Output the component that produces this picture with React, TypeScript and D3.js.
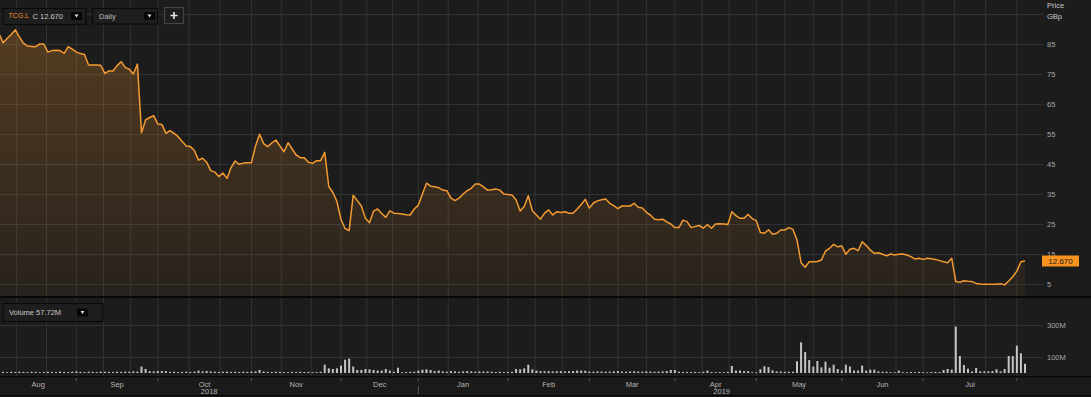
import React, { useEffect, useRef } from "react";
import * as d3 from "d3";

const W = 1091;
const H = 397;

// LSE trading calendar bits
const holidays = [
  "2018-08-27", "2018-12-25", "2018-12-26", "2019-01-01",
  "2019-04-19", "2019-04-22", "2019-05-06", "2019-05-27", "2019-08-26",
];
const firstDay = "2018-08-06";

// daily close, GBp
const closes = [
  88.5, 85.4, 86.8, 88.2, 89.7, 87.4, 85.3, 84.3, 84.2, 84.1,
  85.0, 85.0, 82.3, 82.8, 82.9, 82.8, 81.9, 84.1, 83.3, 82.3,
  81.8, 81.5, 78.0, 78.0, 78.0, 77.9, 75.2, 76.0, 76.0, 77.8,
  79.1, 77.2, 76.6, 75.0, 78.3, 55.4, 59.7, 60.5, 61.1, 58.3,
  58.2, 55.2, 56.1, 55.2, 54.1, 52.5, 51.0, 50.8, 49.5, 46.3,
  46.9, 45.6, 42.8, 42.3, 40.8, 42.0, 40.2, 43.8, 46.0, 44.9,
  45.3, 45.4, 45.4, 51.0, 54.9, 51.8, 50.8, 52.0, 53.0, 51.0,
  49.1, 52.1, 50.0, 48.0, 47.1, 47.1, 45.6, 45.2, 46.1, 46.1,
  48.9, 37.5, 35.5, 32.5, 26.5, 23.5, 22.8, 34.6, 32.8, 31.0,
  26.9, 25.4, 29.3, 30.0, 28.5, 27.2, 29.4, 28.6, 28.5, 28.3,
  28.1, 28.0, 30.0, 31.3, 35.0, 38.6, 37.6, 37.4, 37.1, 36.3,
  36.1, 33.6, 32.8, 33.6, 35.0, 36.1, 36.9, 38.3, 38.3, 37.4,
  36.3, 36.4, 36.7, 36.3, 35.0, 34.8, 34.7, 33.0, 29.3, 30.8,
  34.4, 29.4, 28.0, 26.6, 28.6, 29.7, 28.0, 29.1, 28.8, 29.1,
  28.6, 28.6, 30.0, 31.5, 33.2, 30.3, 32.0, 32.7, 33.1, 33.3,
  31.9, 31.1, 30.1, 31.0, 31.0, 31.0, 31.9, 30.6, 30.3, 28.9,
  28.0, 26.6, 26.4, 26.6, 25.7, 25.0, 23.8, 23.8, 26.3, 25.8,
  23.8, 24.2, 24.5, 23.6, 24.8, 23.6, 25.0, 25.1, 25.0, 24.8,
  29.1, 27.8, 26.9, 26.9, 28.2, 26.8, 26.1, 22.2, 21.9, 23.1,
  21.6, 21.9, 23.0, 23.0, 23.8, 23.2, 19.7, 12.1, 10.6, 12.4,
  12.4, 12.5, 13.0, 16.0, 16.9, 18.2, 17.4, 17.7, 14.9, 16.6,
  16.9, 16.1, 19.1, 17.8, 16.3, 15.2, 15.4, 14.9, 14.4, 15.0,
  14.7, 14.9, 15.0, 14.7, 14.1, 13.3, 13.6, 13.2, 13.6, 13.4,
  13.2, 12.8, 12.4, 12.1, 13.6, 5.8, 5.6, 6.1, 5.9, 5.8,
  5.2, 5.0, 4.9, 4.9, 4.9, 4.9, 5.1, 4.7, 6.0, 7.4,
  9.3, 12.4, 12.67,
];

// daily volume, millions
const volumes = [
  6, 7, 5, 8, 6, 9, 7, 6, 8, 7,
  5, 6, 8, 7, 6, 9, 7, 6, 8, 10,
  7, 6, 8, 7, 6, 9, 8, 7, 6, 8,
  7, 9, 8, 10, 9, 40, 25, 12, 10, 12,
  12, 12, 7, 8, 6, 7, 8, 7, 9, 15,
  10, 13, 10, 8, 7, 8, 9, 7, 8, 6,
  8, 7, 9, 10, 19, 9, 7, 6, 8, 7,
  6, 5, 7, 6, 8, 6, 7, 5, 6, 8,
  52, 29, 25, 29, 46, 83, 90, 40, 19, 19,
  25, 23, 19, 15, 15, 25, 15, 8, 33, 4,
  6, 8, 8, 15, 21, 23, 19, 12, 15, 10,
  8, 12, 10, 8, 10, 12, 10, 8, 10, 9,
  10, 8, 6, 8, 6, 7, 8, 25, 23, 29,
  52, 23, 15, 12, 11, 12, 10, 11, 12, 10,
  11, 12, 15, 15, 14, 9, 8, 10, 9, 8,
  9, 10, 12, 9, 8, 10, 11, 9, 8, 10,
  9, 8, 9, 10, 12, 19, 19, 8, 6, 7,
  6, 7, 5, 8, 15, 6, 5, 6, 5, 7,
  44, 15, 15, 12, 12, 5, 4, 23, 42, 37,
  17, 10, 10, 8, 8, 8, 73, 192, 131, 81,
  40, 75, 35, 71, 33, 52, 25, 15, 52, 40,
  15, 15, 46, 15, 21, 21, 10, 8, 8, 5,
  5, 15, 5, 4, 6, 5, 7, 5, 4, 6,
  7, 6, 19, 25, 21, 290, 106, 50, 27, 10,
  31, 10, 10, 10, 12, 23, 10, 25, 106, 106,
  171, 123, 57.72,
];

const priceTicks = [5, 15, 25, 35, 45, 55, 65, 75, 85, 95];
const volumeTicks = [100, 300];

const FONT = "'Liberation Sans', Arial, sans-serif";

const App = () => {
  const ref = useRef<SVGSVGElement>(null);

  useEffect(() => {
    const svg = d3.select(ref.current);
    svg.selectAll("*").remove();

    // trading days Aug 2018 - Aug 2019
    const calendar: string[] = [];
    const end = new Date(Date.UTC(2019, 7, 31));
    for (let d = new Date(Date.UTC(2018, 7, 1)); d <= end; d.setUTCDate(d.getUTCDate() + 1)) {
      const s = d.toISOString().slice(0, 10);
      const wd = d.getUTCDay();
      if (wd !== 0 && wd !== 6 && !holidays.includes(s)) calendar.push(s);
    }
    const start = calendar.indexOf(firstDay);
    const n = Math.min(closes.length, volumes.length);
    const last = n - 1;

    const plotR = 1043;
    const priceTop = 0;
    const priceBottom = 296;

    const x = d3.scaleLinear().domain([0, last]).range([-1, 1025]);
    const y = d3.scaleLinear().domain([5, 85]).range([284, 44]);
    const yv = d3.scaleLinear().domain([0, 300]).range([373, 325]);

    const months = d3
      .groups(
        calendar.map((s, c) => ({ s, i: c - start })),
        (d) => d.s.slice(0, 7)
      )
      .map(([key, vals]) => ({
        key,
        first: vals[0].i,
        count: vals.length,
        name: d3.utcFormat("%b")(new Date(key + "-15T00:00:00Z")),
        year: key.slice(0, 4),
      }));

    // backgrounds
    svg.append("rect").attr("width", W).attr("height", H).attr("fill", "#1c1c1c");

    const defs = svg.append("defs");
    defs
      .append("clipPath")
      .attr("id", "plotClip")
      .append("rect")
      .attr("x", 0)
      .attr("y", priceTop)
      .attr("width", plotR)
      .attr("height", priceBottom - priceTop);
    const grad = defs
      .append("linearGradient")
      .attr("id", "areaGrad")
      .attr("gradientUnits", "userSpaceOnUse")
      .attr("x1", 0)
      .attr("y1", 30)
      .attr("x2", 0)
      .attr("y2", priceBottom);
    grad.append("stop").attr("offset", 0).attr("stop-color", "#f0952d").attr("stop-opacity", 0.26);
    grad.append("stop").attr("offset", 1).attr("stop-color", "#f0952d").attr("stop-opacity", 0.05);

    // vertical gridlines: month start and thirds of the month
    const gridXs: number[] = [];
    months.forEach((m) => {
      for (let k = 0; k < 3; k++) {
        const gx = x(m.first + (k * m.count) / 3);
        if (gx > 0 && gx < plotR) gridXs.push(gx);
      }
    });

    const grid = svg.append("g").attr("stroke", "#323232").attr("stroke-width", 1);
    gridXs.forEach((gx) => {
      grid.append("line").attr("x1", gx).attr("x2", gx).attr("y1", 0).attr("y2", priceBottom);
      grid.append("line").attr("x1", gx).attr("x2", gx).attr("y1", 298).attr("y2", 376);
    });
    priceTicks.forEach((t) => {
      grid
        .append("line")
        .attr("x1", 0)
        .attr("x2", plotR)
        .attr("y1", Math.round(y(t)) + 0.5)
        .attr("y2", Math.round(y(t)) + 0.5);
    });
    volumeTicks.forEach((t) => {
      grid
        .append("line")
        .attr("x1", 0)
        .attr("x2", plotR)
        .attr("y1", Math.round(yv(t)) + 0.5)
        .attr("y2", Math.round(yv(t)) + 0.5);
    });

    // price area + line
    const idx = d3.range(n);
    const plot = svg.append("g").attr("clip-path", "url(#plotClip)");
    plot
      .append("path")
      .datum(idx)
      .attr("fill", "url(#areaGrad)")
      .attr(
        "d",
        d3
          .area<number>()
          .x((i) => x(i))
          .y0(priceBottom)
          .y1((i) => y(closes[i]))
      );
    plot
      .append("path")
      .datum(idx)
      .attr("fill", "none")
      .attr("stroke", "#f39a31")
      .attr("stroke-width", 1.5)
      .attr("stroke-linejoin", "round")
      .attr(
        "d",
        d3
          .line<number>()
          .x((i) => x(i))
          .y((i) => y(closes[i]))
      );

    // volume bars
    svg
      .append("g")
      .selectAll("rect")
      .data(idx)
      .join("rect")
      .attr("x", (i) => x(i) - 1)
      .attr("width", 2)
      .attr("y", (i) => yv(volumes[i]))
      .attr("height", (i) => Math.max(0.8, yv(0) - yv(volumes[i])))
      .attr("fill", "#c4c4c4");

    // panel separators
    svg.append("rect").attr("x", 0).attr("y", priceBottom).attr("width", W).attr("height", 2).attr("fill", "#080808");
    svg.append("rect").attr("x", 0).attr("y", 376).attr("width", W).attr("height", 1.5).attr("fill", "#080808");
    svg.append("rect").attr("x", 0).attr("y", 377.5).attr("width", W).attr("height", 17.5).attr("fill", "#1a1a1a");
    svg.append("rect").attr("x", 0).attr("y", 395).attr("width", W).attr("height", 1.5).attr("fill", "#080808");

    // right axis labels
    const axisText = (tx: number, ty: number, s: string, fill = "#a8a8a8") =>
      svg
        .append("text")
        .attr("x", tx)
        .attr("y", ty)
        .attr("dy", "0.35em")
        .attr("font-family", FONT)
        .attr("font-size", 7.5)
        .attr("fill", fill)
        .text(s);

    priceTicks.filter((t) => t <= 85).forEach((t) => axisText(1047, y(t), String(t)));
    axisText(1047, 5.5, "Price", "#c8c8c8");
    axisText(1047, 16, "GBp", "#c8c8c8");
    volumeTicks.forEach((t) => axisText(1047, yv(t), `${t}M`));

    // last price tag
    const lastY = y(closes[last]);
    svg
      .append("rect")
      .attr("x", 1042)
      .attr("y", lastY - 5.5)
      .attr("width", 37)
      .attr("height", 11)
      .attr("fill", "#f7931e");
    svg
      .append("text")
      .attr("x", 1060.5)
      .attr("y", lastY)
      .attr("dy", "0.35em")
      .attr("text-anchor", "middle")
      .attr("font-family", FONT)
      .attr("font-size", 8)
      .attr("fill", "#1a1a1a")
      .text(closes[last].toFixed(3));

    // time axis: month labels, boundary ticks, years
    const labelR = x(last);
    const ticks = svg.append("g").attr("stroke", "#555").attr("stroke-width", 1);
    months.forEach((m) => {
      const sx = x(m.first);
      const ex = x(m.first + m.count);
      if (sx > 0 && sx < plotR) {
        ticks.append("line").attr("x1", sx).attr("x2", sx).attr("y1", 378).attr("y2", 381);
        if (m.name === "Jan") {
          ticks.append("line").attr("x1", sx).attr("x2", sx).attr("y1", 386).attr("y2", 394);
        }
      }
      const a = Math.max(0, sx);
      const b = Math.min(labelR, ex);
      if (b - a > 30) {
        svg
          .append("text")
          .attr("x", (a + b) / 2)
          .attr("y", 384)
          .attr("dy", "0.35em")
          .attr("text-anchor", "middle")
          .attr("font-family", FONT)
          .attr("font-size", 7.5)
          .attr("fill", "#b4b4b4")
          .text(m.name);
      }
    });
    d3.groups(months, (m) => m.year).forEach(([yr, ms]) => {
      const a = Math.max(0, x(ms[0].first));
      const lm = ms[ms.length - 1];
      const b = Math.min(labelR, x(lm.first + lm.count));
      svg
        .append("text")
        .attr("x", (a + b) / 2)
        .attr("y", 391.5)
        .attr("dy", "0.35em")
        .attr("text-anchor", "middle")
        .attr("font-family", FONT)
        .attr("font-size", 7.5)
        .attr("fill", "#b4b4b4")
        .text(yr);
    });

    // toolbar widgets
    const box = (bx: number, by: number, bw: number, bh: number, stroke = "#0a0a0a") =>
      svg
        .append("rect")
        .attr("x", bx + 0.5)
        .attr("y", by + 0.5)
        .attr("width", bw)
        .attr("height", bh)
        .attr("fill", "#1e1e1e")
        .attr("stroke", stroke)
        .attr("stroke-width", 1.2);
    const arrowBtn = (bx: number, by: number) => {
      svg.append("rect").attr("x", bx).attr("y", by).attr("width", 11).attr("height", 8).attr("fill", "#060606");
      svg
        .append("path")
        .attr("d", `M${bx + 3.5},${by + 2.5}L${bx + 7.5},${by + 2.5}L${bx + 5.5},${by + 5.5}Z`)
        .attr("fill", "#e0e0e0");
    };
    const label = (tx: number, ty: number, s: string, fill: string, size = 7.5) =>
      svg
        .append("text")
        .attr("x", tx)
        .attr("y", ty)
        .attr("dy", "0.35em")
        .attr("font-family", FONT)
        .attr("font-size", size)
        .attr("fill", fill)
        .text(s);

    box(2.5, 8, 83, 16);
    label(8.5, 16, "TCG.L", "#f0952d", 7);
    label(32.5, 16, `C ${closes[last].toFixed(3)}`, "#c8c8c8", 7.5);
    arrowBtn(71, 12);

    box(92, 8, 65, 15.5);
    label(99, 16, "Daily", "#bdbdbd");
    arrowBtn(144, 12);

    box(164, 7, 19, 16, "#444");
    svg
      .append("path")
      .attr("d", "M170.5,15.5h7M174,12v7")
      .attr("stroke", "#e8e8e8")
      .attr("stroke-width", 1.6);

    box(2.5, 303, 100, 18);
    label(9, 312.5, `Volume ${volumes[last]}M`, "#c8c8c8");
    arrowBtn(77, 308.5);
  }, []);

  return (
    <div style={{ position: "fixed", left: 0, top: 0, width: W, height: H, background: "#1c1c1c" }}>
      <svg ref={ref} width={W} height={H} style={{ display: "block" }} />
    </div>
  );
};

export default App;
